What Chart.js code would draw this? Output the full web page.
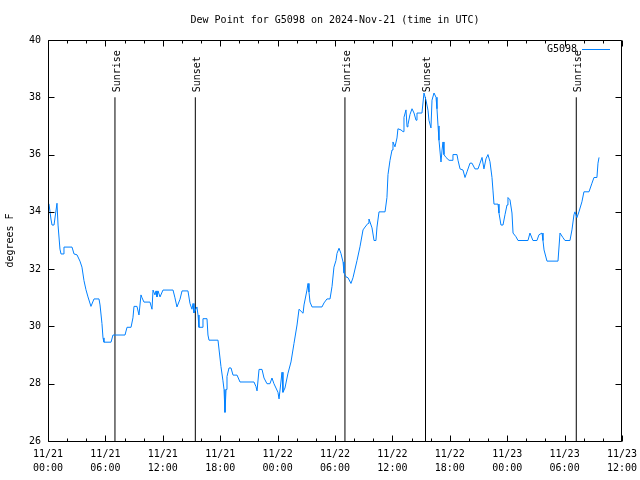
<!DOCTYPE html>
<html>
<head>
<meta charset="utf-8">
<script src="https://cdn.jsdelivr.net/npm/chart.js@4.4.1/dist/chart.umd.min.js"></script>
<style>
  html, body { margin: 0; padding: 0; background: #fff; }
  #wrap { width: 640px; height: 480px; }
</style>
</head>
<body>
<div id="wrap"><canvas id="c" width="640" height="480"></canvas></div>
<script>
// ---- data (hours since 2024-11-21 00:00 UTC) ----
const chartTitle = "Dew Point for G5098 on 2024-Nov-21 (time in UTC)";
const yAxisTitle = "degrees F";
const seriesName = "G5098";

const hours = [0.10,0.31,0.42,0.63,0.94,1.05,1.25,1.36,1.57,1.67,2.51,2.72,3.03,3.34,3.55,3.76,3.97,4.18,4.49,4.81,
  5.33,5.44,5.64,5.75,5.85,6.59,6.79,8.05,8.26,8.68,8.88,8.99,9.30,9.51,9.72,9.83,10.03,10.66,10.87,10.98,
  11.18,11.29,11.39,11.50,11.71,12.02,13.07,13.27,13.48,13.80,14.01,14.63,14.84,15.05,15.16,15.26,15.57,15.68,15.78,16.10,
  16.20,16.62,16.72,16.83,17.77,18.08,18.29,18.40,18.50,18.61,18.71,18.92,19.13,19.34,19.76,20.07,21.53,21.74,21.85,22.06,
  22.37,22.58,22.89,23.20,23.41,23.62,24.04,24.15,24.46,24.56,24.77,25.09,25.40,25.71,26.03,26.24,26.66,26.76,27.07,27.18,
  27.28,27.39,27.60,28.64,28.85,29.16,29.48,29.69,29.89,30.10,30.21,30.42,30.62,30.84,30.94,31.15,31.36,31.67,31.88,32.30,
  32.61,32.93,33.14,33.45,33.55,33.87,34.08,34.28,34.39,34.60,35.23,35.43,35.54,35.75,35.96,36.06,36.27,36.48,36.58,36.90,
  37.11,37.21,37.42,37.53,37.63,37.84,38.05,38.26,38.47,38.57,39.09,39.30,39.51,39.72,39.82,40.03,40.14,40.35,40.56,40.66,
  40.77,40.87,41.08,41.19,41.29,41.39,41.60,41.92,42.23,42.33,42.75,42.86,43.07,43.38,43.59,43.80,44.11,44.32,44.63,44.95,
  45.16,45.37,45.57,45.78,45.99,46.20,46.41,46.51,46.62,47.04,47.14,47.35,47.56,47.77,47.98,48.08,48.29,48.50,48.61,48.92,
  49.13,50.17,50.38,50.69,51.11,51.32,51.64,51.74,51.85,52.16,53.31,53.52,53.83,54.04,54.56,54.77,54.98,55.08,55.29,55.50,
  55.81,56.02,56.55,56.86,57.07,57.38,57.49,57.60];

const dewF = [34.28,33.75,33.54,33.54,34.3,33.54,32.7,32.53,32.53,32.77,32.77,32.53,32.5,32.28,32.07,31.6,31.28,31.03,30.7,30.96,
  30.96,30.75,30.1,29.6,29.45,29.45,29.7,29.7,29.97,29.97,30.3,30.7,30.7,30.4,31.1,31.0,30.85,30.85,30.6,31.27,
  31.1,31.24,31.03,31.24,31.03,31.27,31.27,31.0,30.68,30.95,31.24,31.24,30.8,30.6,30.8,30.47,30.68,30.4,29.97,29.97,
  30.27,30.27,29.7,29.52,29.52,28.6,28.1,27.8,27.0,27.8,28.25,28.55,28.55,28.3,28.3,28.06,28.06,27.9,27.75,28.5,
  28.5,28.2,28.0,28.0,28.2,28.0,27.7,27.47,28.4,27.7,27.85,28.37,28.76,29.4,30.05,30.6,30.46,30.75,31.27,31.5,
  31.2,30.85,30.68,30.68,30.82,30.96,30.96,31.4,32.07,32.3,32.55,32.73,32.55,32.25,31.87,31.73,31.7,31.5,31.7,32.3,
  32.78,33.37,33.47,33.6,33.75,33.44,33.0,33.0,33.47,34.0,34.0,34.5,35.3,35.8,36.16,36.44,36.27,36.58,36.9,36.86,
  36.8,37.3,37.56,36.97,37.05,37.4,37.6,37.45,37.2,37.45,37.45,38.15,37.9,37.55,37.2,36.93,37.9,38.15,38.0,37.6,
  37.0,36.5,35.74,36.16,36.44,36.0,35.9,35.8,35.8,36.0,36.0,35.8,35.5,35.46,35.2,35.4,35.7,35.7,35.5,35.5,
  35.7,35.9,35.5,35.85,36.0,35.75,35.2,34.76,34.27,34.27,33.96,33.54,33.54,33.9,34.24,34.5,34.42,33.96,33.26,33.13,
  33.0,33.0,33.26,33.0,33.0,33.2,33.26,33.0,32.67,32.28,32.28,33.26,33.1,33.0,33.0,33.37,33.9,34.0,33.8,34.0,
  34.35,34.7,34.7,35.0,35.2,35.2,35.7,35.9];

// sun events
const sunHours  = [7.00, 15.40, 31.04, 39.46, 55.22];
const sunLabels = ["Sunrise", "Sunset", "Sunrise", "Sunset", "Sunrise"];
const sunLineTop = 38;

// axes
const xMin = 0, xMax = 60, xMajorStep = 6, xMinorStep = 2;
const yMin = 26, yMax = 40, yStep = 2;
const startDay = 21, monthStr = "11";

const FONT = "'DejaVu Sans Mono', 'Liberation Mono', monospace";
Chart.defaults.color = '#000';
Chart.defaults.font.family = FONT;
Chart.defaults.font.size = 10;

function pad2(n) { return (n < 10 ? '0' : '') + n; }

const datasets = [{
  label: seriesName,
  data: hours.map((h, i) => ({ x: h, y: dewF[i] })),
  borderColor: '#0080ff',
  borderWidth: 1,
  pointRadius: 0,
  tension: 0,
  fill: false
}];
sunHours.forEach((h) => {
  datasets.push({
    data: [{ x: h, y: yMin }, { x: h, y: sunLineTop }],
    borderColor: '#000',
    borderWidth: 1,
    pointRadius: 0,
    fill: false
  });
});

const framePlugin = {
  id: 'frame',
  afterDraw(chart) {
    const ctx = chart.ctx;
    const a = chart.chartArea;
    const xs = chart.scales.x, ys = chart.scales.y;
    ctx.save();
    ctx.strokeStyle = '#000';
    ctx.lineWidth = 1;
    const L = Math.round(a.left) + 0.5, R = Math.round(a.right) - 0.5;
    const T = Math.round(a.top) + 0.5, B = Math.round(a.bottom) + 0.5;
    ctx.beginPath();
    ctx.moveTo(L, T); ctx.lineTo(R, T); ctx.lineTo(R, B); ctx.lineTo(L, B); ctx.closePath();
    // x ticks (minor & major), inward at top and bottom
    for (let v = xMin; v <= xMax + 1e-9; v += xMinorStep) {
      const px = Math.round(xs.getPixelForValue(v)) + 0.5;
      const len = (Math.abs(v % xMajorStep) < 1e-9) ? 6 : 3;
      ctx.moveTo(px, B); ctx.lineTo(px, B - len);
      ctx.moveTo(px, T); ctx.lineTo(px, T + len);
    }
    // y ticks
    for (let v = yMin; v <= yMax + 1e-9; v += yStep) {
      const py = Math.round(ys.getPixelForValue(v)) + 0.5;
      ctx.moveTo(L, py); ctx.lineTo(L + 6, py);
      ctx.moveTo(R, py); ctx.lineTo(R - 6, py);
    }
    ctx.stroke();

    ctx.fillStyle = '#000';
    ctx.font = '10px ' + FONT;
    // title
    ctx.textAlign = 'center';
    ctx.textBaseline = 'middle';
    ctx.fillText(chartTitle, (a.left + a.right) / 2, 20);
    // y axis title
    ctx.save();
    ctx.translate(10, (a.top + a.bottom) / 2);
    ctx.rotate(-Math.PI / 2);
    ctx.fillText(yAxisTitle, 0, 0);
    ctx.restore();
    // sun labels
    sunHours.forEach((h, i) => {
      const px = xs.getPixelForValue(h);
      const py = ys.getPixelForValue(sunLineTop);
      ctx.save();
      ctx.translate(px + 2, py - 5);
      ctx.rotate(-Math.PI / 2);
      ctx.textAlign = 'left';
      ctx.textBaseline = 'middle';
      ctx.fillText(sunLabels[i], 0, 0);
      ctx.restore();
    });
    // legend
    const ly = a.top + 9;
    ctx.textAlign = 'right';
    ctx.textBaseline = 'middle';
    ctx.fillText(seriesName, a.right - 45, ly);
    ctx.beginPath();
    ctx.strokeStyle = '#0080ff';
    ctx.moveTo(a.right - 40, Math.round(ly) + 0.5);
    ctx.lineTo(a.right - 12, Math.round(ly) + 0.5);
    ctx.stroke();
    ctx.restore();
  }
};

new Chart(document.getElementById('c'), {
  type: 'line',
  data: { datasets },
  options: {
    responsive: false,
    animation: false,
    devicePixelRatio: 1,
    layout: { padding: { top: 40, right: 18, left: 0, bottom: 0 } },
    plugins: { legend: { display: false }, title: { display: false }, tooltip: { enabled: false } },
    scales: {
      x: {
        type: 'linear', min: xMin, max: xMax,
        grid: { display: false, drawTicks: false },
        border: { display: false },
        afterFit: (s) => { s.height = 39; s.paddingLeft = 0; s.paddingRight = 0; },
        ticks: {
          stepSize: xMajorStep, autoSkip: false, maxRotation: 0, minRotation: 0,
          padding: 6, color: '#000', font: { family: FONT, size: 10, lineHeight: 1.4 },
          callback: (v) => {
            const day = startDay + Math.floor(v / 24);
            const hr = v % 24;
            return [monthStr + '/' + day, pad2(hr) + ':00'];
          }
        }
      },
      y: {
        min: yMin, max: yMax,
        grid: { display: false, drawTicks: false },
        border: { display: false },
        afterFit: (s) => { s.width = 48; s.paddingTop = 0; s.paddingBottom = 0; },
        ticks: { stepSize: yStep, padding: 7, color: '#000', font: { family: FONT, size: 10 } }
      }
    }
  },
  plugins: [framePlugin]
});
</script>
</body>
</html>
